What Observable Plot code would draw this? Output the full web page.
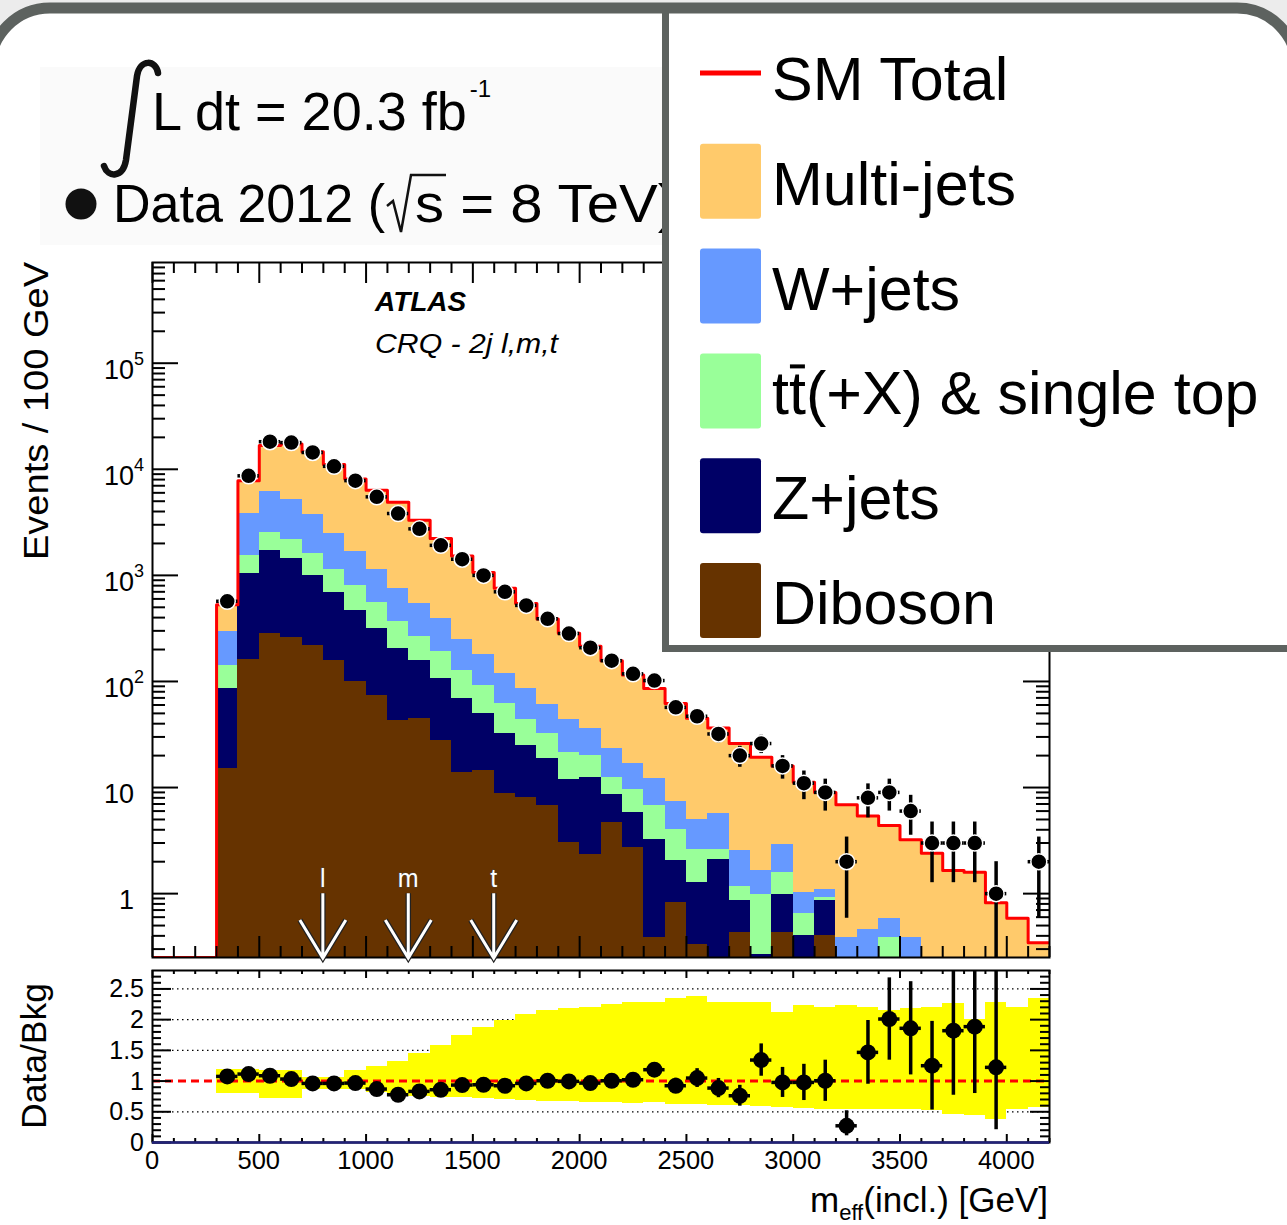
<!DOCTYPE html>
<html><head><meta charset="utf-8">
<script src="https://cdn.jsdelivr.net/npm/d3@7"></script>
<script src="https://cdn.jsdelivr.net/npm/@observablehq/plot@0.6"></script>
<style>
body{margin:0;background:#fff}
#chart{position:relative;width:1287px;height:1225px;overflow:hidden;background:#fff;font-family:"Liberation Sans",Arial,Helvetica,sans-serif}
#chart svg{position:absolute;left:0}
</style></head><body><div id="chart"></div>
<script>
// ---------------- data ----------------
const binLow = [300,400,500,600,700,800,900,1000,1100,1200,1300,1400,1500,1600,1700,1800,1900,2000,2100,2200,2300,2400,2500,2600,2700,2800,2900,3000,3100,3200,3300,3400,3500,3600,3700,3800,3900,4000,4100];
const diboson = [15.0,161,285,258,217,156,98.9,73.1,43.1,44.7,27.7,13.9,14.6,8.8,8.07,6.73,3.03,2.35,4.68,2.72,0.385,0.82,0.333,0,0.428,0,0.428,0,0.4,0,0,0,0,0,0,0,0,0,0];
const zjets = [70.7,877,1423,1180,790,534,367,246,163,113,78.3,54.6,34.8,23.2,16.7,11.9,9.0,10.15,4.0,3.1,2.875,1.25,0.937,2.11,0.425,0.268,0.559,0.4,0.453,0,0,0,0,0,0,0,0,0,0];
const ttbar = [54.3,487,822,755,603,437,337,231,165,110,86,58.5,42.1,29.4,19.5,13.4,9.4,7.5,3.82,3.86,3.47,1.99,1.36,0.52,0.327,0.719,0.593,0.247,0.064,0,0,0.384,0,0,0,0,0,0,0];
const wjets = [156,2310,3695,2997,2165,1367,868,577,384,270,198,120,86.5,58.6,42,28.5,22,15.7,10.9,7.02,5.47,3.28,2.41,3.02,1.35,0.653,1.3,0.373,0.183,0.39,0.461,0.202,0.384,0,0,0,0,0,0];
const multijets = [234,3957,10518,12090,10825,8606,6449,5233,4125,2772,1840,1272,886,638,456,327,241,179,133,98.3,73.8,54.5,40,30.75,23.5,17.7,13.1,10.2,7.9,6.5,4.94,3.81,2.84,2.4,1.65,1.59,0.82,0.586,0.344];
const dataCounts = [570,8680,18200,17850,14400,10670,7820,5500,3830,2745,1919,1420,1000,700,521,390,283,208,157,118,102,57,47,32,20,26,16,11,9,2,8,9,6,3,3,3,1,0,2];
const ratio = [1.076,1.114,1.087,1.033,0.962,0.962,0.967,0.870,0.777,0.832,0.859,0.935,0.940,0.924,0.962,1.005,0.995,0.967,1.005,1.022,1.185,0.924,1.049,0.886,0.761,1.342,0.978,0.978,1.005,0.272,1.467,2.01,1.859,1.25,1.82,1.886,1.223,null,null];
const bandHi = [1.196,1.196,1.168,1.168,1.06,1.06,1.168,1.239,1.315,1.451,1.576,1.739,1.875,1.984,2.076,2.147,2.185,2.20,2.24,2.28,2.28,2.337,2.38,2.28,2.28,2.28,2.12,2.228,2.2,2.228,2.19,2.147,2.174,2.2,2.255,2.01,2.28,2.2,2.337];
const bandLo = [0.804,0.804,0.717,0.717,0.87,0.87,0.859,0.815,0.761,0.75,0.734,0.734,0.717,0.707,0.679,0.668,0.668,0.652,0.652,0.641,0.652,0.614,0.625,0.609,0.598,0.58,0.57,0.554,0.543,0.543,0.543,0.543,0.533,0.516,0.462,0.446,0.38,0.543,0.57];
// low-count Poisson interval (relative to N)
const lowCountRel = {1: [0.17, 3.3], 2: [0.4, 1.9]};
const arrowCuts = [800, 1200, 1600];
const arrowLabels = ["l", "m", "t"];
const compNames = ["Diboson", "Z+jets", "ttbar", "W+jets", "Multi-jets"];
const compColors = ["#663300", "#000066", "#99ff99", "#6699ff", "#ffca6b"];
const legendLabels = ["Multi-jets", "W+jets", "tt(+X) & single top", "Z+jets", "Diboson"];
const legendColors = ["#ffca6b", "#6699ff", "#99ff99", "#000066", "#663300"];
const yMainLabels = [[1,"1",null],[10,"10",null],[100,"10","2"],[1e3,"10","3"],[1e4,"10","4"],[1e5,"10","5"]];
const xLabels = [0,500,1000,1500,2000,2500,3000,3500,4000];
const yRatioLabels = [[0,"0"],[0.5,"0.5"],[1,"1"],[1.5,"1.5"],[2,"2"],[2.5,"2.5"]];

// ---------------- derived tables ----------------
const BW = 100;
const comps = [diboson, zjets, ttbar, wjets, multijets];
const FLOOR = 0.05;
const cum = binLow.map(() => 0);
const stackRows = [];
comps.forEach((vals, ci) => {
  binLow.forEach((lo, i) => {
    const v = vals[i], b = cum[i], t = b + v;
    if (v > 0) stackRows.push({name: compNames[ci], lo, hi: lo + BW, y1: b > 0 ? b : FLOOR, y2: t});
    cum[i] = t;
  });
});
const smLine = [{x: 0, y: 0.25}, {x: binLow[0], y: 0.25}];
binLow.forEach((lo, i) => { smLine.push({x: lo, y: cum[i]}, {x: lo + BW, y: cum[i]}); });

const dataPts = [], ratioPts = [];
binLow.forEach((lo, i) => {
  const n = dataCounts[i];
  if (n > 0) {
    const s = Math.sqrt(n);
    dataPts.push({c: lo + BW/2, x1: lo, x2: lo + BW, n, elo: Math.max(n - s, FLOOR), ehi: n + s});
  }
  const r = ratio[i];
  if (r != null && n > 0) {
    const rel = lowCountRel[n] || [1 - 1/Math.sqrt(n), 1 + 1/Math.sqrt(n)];
    ratioPts.push({c: lo + BW/2, x1: lo, x2: lo + BW, r, lo: r*rel[0], hi: r*rel[1]});
  }
});
const bandRows = binLow.map((lo, i) => ({lo, hi: lo + BW, y1: bandLo[i], y2: bandHi[i]}));

const yMajor = [1, 10, 100, 1e3, 1e4, 1e5];
const yMinor = [];
for (let e = -1; e <= 5; e++) for (let m = 2; m <= 9; m++) { const v = m * 10**e; if (v >= 0.25 && v <= 8.9e5) yMinor.push(v); }
const xMajor = d3.range(0, 4201, 500);
const xMinor = d3.range(0, 4201, 100).filter(v => v % 500 !== 0);
const rMajor = [0, 0.5, 1, 1.5, 2, 2.5];
const rMinor = d3.range(1, 28).map(k => k/10).filter(v => Math.abs(v*2 - Math.round(v*2)) > 1e-6);

const W = 1287, ML = 152, MR = 238;
const FW = W - ML - MR;
const MAIN_H = 965, MAIN_T = 262, MAIN_B = 8;
const FH = MAIN_H - MAIN_T - MAIN_B;
const RAT_TOP = 965, RAT_H = 260, RAT_T = 5, RAT_B = 83;
const RFH = RAT_H - RAT_T - RAT_B;
const tk = {stroke: "black", strokeWidth: 2};

const mainPlot = Plot.plot({
  width: W, height: MAIN_H,
  marginLeft: ML, marginRight: MR, marginTop: MAIN_T, marginBottom: MAIN_B,
  x: {domain: [0, 4200], axis: null},
  y: {type: "log", domain: [0.25, 8.9e5], axis: null},
  color: {domain: compNames, range: compColors},
  marks: [
    Plot.rect(stackRows, {x1: "lo", x2: "hi", y1: "y1", y2: "y2", fill: "name", clip: true, shapeRendering: "crispEdges"}),
    Plot.line(smLine, {x: "x", y: "y", stroke: "#ff0000", strokeWidth: 3, clip: true}),
    Plot.tickY(yMajor, {y: d => d, insetRight: FW - 26, ...tk}),
    Plot.tickY(yMinor, {y: d => d, insetRight: FW - 13, ...tk}),
    Plot.tickY(yMajor, {y: d => d, insetLeft: FW - 26, ...tk}),
    Plot.tickY(yMinor, {y: d => d, insetLeft: FW - 13, ...tk}),
    Plot.tickX(xMajor, {x: d => d, insetTop: FH - 21, ...tk}),
    Plot.tickX(xMinor, {x: d => d, insetTop: FH - 11, ...tk}),
    Plot.tickX(xMajor, {x: d => d, insetBottom: FH - 21, ...tk}),
    Plot.tickX(xMinor, {x: d => d, insetBottom: FH - 11, ...tk}),
    Plot.frame({stroke: "black", strokeWidth: 2}),
    Plot.ruleX(dataPts, {x: "c", y1: "elo", y2: "ehi", stroke: "black", strokeWidth: 3.5, clip: true}),
    Plot.ruleY(dataPts, {y: "n", x1: "x1", x2: "x2", stroke: "black", strokeWidth: 3.5, clip: true}),
    Plot.dot(dataPts, {x: "c", y: "n", r: 8, fill: "black", stroke: "white", strokeWidth: 1.5, clip: true})
  ]
});

const ratioPlot = Plot.plot({
  width: W, height: RAT_H,
  marginLeft: ML, marginRight: MR, marginTop: RAT_T, marginBottom: RAT_B,
  x: {domain: [0, 4200], axis: null},
  y: {domain: [0, 2.8], axis: null},
  marks: [
    Plot.ruleY([0.5, 1.5, 2, 2.5], {y: d => d, stroke: "black", strokeWidth: 1.3, strokeDasharray: "1.5,3.5"}),
    Plot.rect(bandRows, {x1: "lo", x2: "hi", y1: "y1", y2: "y2", fill: "#ffff00", shapeRendering: "crispEdges"}),
    Plot.ruleY([1], {y: d => d, stroke: "#ff0000", strokeWidth: 3, strokeDasharray: "8,5"}),
    Plot.tickY(rMajor, {y: d => d, insetRight: FW - 19, ...tk}),
    Plot.tickY(rMinor, {y: d => d, insetRight: FW - 9, ...tk}),
    Plot.tickY(rMajor, {y: d => d, insetLeft: FW - 19, ...tk}),
    Plot.tickY(rMinor, {y: d => d, insetLeft: FW - 9, ...tk}),
    Plot.tickX(xMajor, {x: d => d, insetTop: RFH - 8, ...tk}),
    Plot.tickX(xMinor, {x: d => d, insetTop: RFH - 4, ...tk}),
    Plot.tickX(xMajor, {x: d => d, insetBottom: RFH - 8, ...tk}),
    Plot.tickX(xMinor, {x: d => d, insetBottom: RFH - 4, ...tk}),
    Plot.frame({stroke: "black", strokeWidth: 2}),
    Plot.ruleY([0], {y: d => d, stroke: "#22227a", strokeWidth: 2.5}),
    Plot.ruleX(ratioPts, {x: "c", y1: "lo", y2: "hi", stroke: "black", strokeWidth: 3.5, clip: true}),
    Plot.ruleY(ratioPts, {y: "r", x1: "x1", x2: "x2", stroke: "black", strokeWidth: 3.5, clip: true}),
    Plot.dot(ratioPts, {x: "c", y: "r", r: 8, fill: "black", clip: true})
  ]
});

const chart = document.getElementById("chart");
// background layer
const bg = d3.create("svg").attr("width", W).attr("height", 1225).style("top", "0px");
bg.append("rect").attr("x", 40).attr("y", 67).attr("width", 624).attr("height", 178).attr("fill", "#fafafa");
chart.appendChild(bg.node());

for (const [el, top] of [[mainPlot, 0], [ratioPlot, RAT_TOP]]) {
  el.style.position = "absolute"; el.style.top = top + "px"; el.style.left = "0px";
  el.style.background = "transparent"; el.style.overflow = "visible"; el.style.maxWidth = "none";
  chart.appendChild(el);
}

const ov = d3.create("svg").attr("width", W).attr("height", 1225).style("top", "0px")
  .style("font-family", '"Liberation Sans",Arial,Helvetica,sans-serif');
chart.appendChild(ov.node());

const mx = mainPlot.scale("x"), my = mainPlot.scale("y");
const rx = ratioPlot.scale("x"), ry = ratioPlot.scale("y");

// arrows with labels
arrowCuts.forEach((g, i) => {
  const x = mx.apply(g), yTop = my.apply(1), yTip = my.apply(0.25) + 1;
  const d = `M${x},${yTop}V${yTip}M${x - 23},${yTip - 38}L${x},${yTip}L${x + 23},${yTip - 38}`;
  ov.append("path").attr("d", d).attr("fill", "none").attr("stroke", "#222").attr("stroke-width", 5.5).attr("stroke-linejoin", "miter");
  ov.append("path").attr("d", d).attr("fill", "none").attr("stroke", "white").attr("stroke-width", 3).attr("stroke-linejoin", "miter");
  ov.append("text").attr("x", x).attr("y", yTop - 6).attr("text-anchor", "middle").attr("font-size", 25)
    .attr("fill", "white").attr("stroke", "#444").attr("stroke-width", 0.8).attr("paint-order", "stroke").text(arrowLabels[i]);
});

// main y labels
yMainLabels.forEach(([v, base, sup]) => {
  const y = my.apply(v);
  const t = ov.append("text").attr("x", sup ? 144 : 134).attr("y", y + 16).attr("text-anchor", "end").attr("font-size", 27);
  t.append("tspan").text(base);
  if (sup) t.append("tspan").attr("font-size", 18).attr("dy", -14).text(sup);
});
// ratio y labels
yRatioLabels.forEach(([v, s]) => {
  ov.append("text").attr("x", 144).attr("y", RAT_TOP + ry.apply(v) + 9).attr("text-anchor", "end").attr("font-size", 25).text(s);
});
// ratio x labels
xLabels.forEach(v => {
  ov.append("text").attr("x", rx.apply(v)).attr("y", 1169).attr("text-anchor", "middle").attr("font-size", 25.5).text(v);
});
// axis titles
ov.append("text").attr("transform", "translate(48,411) rotate(-90)").attr("text-anchor", "middle").attr("font-size", 35)
  .attr("textLength", 298).attr("lengthAdjust", "spacingAndGlyphs").text("Events / 100 GeV");
ov.append("text").attr("transform", `translate(46,${RAT_TOP + ry.apply(1.4)}) rotate(-90)`).attr("text-anchor", "middle").attr("font-size", 35)
  .attr("textLength", 146).attr("lengthAdjust", "spacingAndGlyphs").text("Data/Bkg");
{
  const t = ov.append("text").attr("x", 1048).attr("y", 1212).attr("text-anchor", "end").attr("font-size", 35);
  t.append("tspan").text("m");
  t.append("tspan").attr("font-size", 22).attr("dy", 8).text("eff");
  t.append("tspan").attr("dy", -8).text("(incl.) [GeV]");
}
// ATLAS labels
ov.append("text").attr("x", 375).attr("y", 311).attr("font-size", 28).attr("font-weight", "bold").attr("font-style", "italic").text("ATLAS");
ov.append("text").attr("x", 375).attr("y", 353).attr("font-size", 28).attr("font-style", "italic")
  .attr("textLength", 183).attr("lengthAdjust", "spacingAndGlyphs").text("CRQ - 2j l,m,t");

// luminosity block
ov.append("path").attr("d", "M158,73 C156,60 140,58 137,76 L126,160 C123,178 108,178 104,166")
  .attr("fill", "none").attr("stroke", "#111").attr("stroke-width", 6.5).attr("stroke-linecap", "round");
{
  const t = ov.append("text").attr("x", 152).attr("y", 130).attr("font-size", 54);
  t.append("tspan").text("L dt = 20.3 fb");
  t.append("tspan").attr("font-size", 24).attr("dx", 3).attr("dy", -33).text("-1");
}
ov.append("circle").attr("cx", 81).attr("cy", 204).attr("r", 15.5).attr("fill", "#111");
ov.append("text").attr("x", 113).attr("y", 222).attr("font-size", 54).attr("textLength", 272).attr("lengthAdjust", "spacingAndGlyphs").text("Data 2012 (");
ov.append("path").attr("d", "M387,206 L393,201 L401,232 L411,175 L446,175").attr("fill", "none").attr("stroke", "#111").attr("stroke-width", 2.5);
ov.append("text").attr("x", 415).attr("y", 222).attr("font-size", 54).attr("textLength", 262).attr("lengthAdjust", "spacingAndGlyphs").text("s = 8 TeV)");

// legend box
ov.append("rect").attr("x", 665.5).attr("y", -10).attr("width", 700).attr("height", 658.5)
  .attr("fill", "white").attr("stroke", "#5d625f").attr("stroke-width", 7);
const LB = 100, LS = 104.8;
ov.append("line").attr("x1", 700).attr("x2", 761).attr("y1", 73).attr("y2", 73).attr("stroke", "#ff0000").attr("stroke-width", 5);
ov.append("text").attr("x", 772).attr("y", LB).attr("font-size", 61).text("SM Total");
legendLabels.forEach((lab, i) => {
  const base = LB + LS * (i + 1);
  ov.append("rect").attr("x", 700).attr("y", base - 61).attr("width", 61).attr("height", 75).attr("rx", 3).attr("fill", legendColors[i]);
  const t = ov.append("text").attr("x", 772).attr("y", base).attr("font-size", 61).text(lab);
  if (i === 2) {
    const ext = t.node().getExtentOfChar(1);
    ov.append("line").attr("x1", ext.x + 1).attr("x2", ext.x + ext.width - 1)
      .attr("y1", base - 48).attr("y2", base - 48).attr("stroke", "black").attr("stroke-width", 4);
  }
});

// outer rounded screenshot frame
function rrPath(x, y, w, h, r) {
  return `M${x + r},${y}H${x + w - r}A${r},${r} 0 0 1 ${x + w},${y + r}V${y + h - r}A${r},${r} 0 0 1 ${x + w - r},${y + h}H${x + r}A${r},${r} 0 0 1 ${x},${y + h - r}V${y + r}A${r},${r} 0 0 1 ${x + r},${y}Z`;
}
const RR = rrPath(-10, 8, 1307, 1400, 60);
ov.append("path").attr("d", "M-30,-30H1330V1500H-30Z" + RR).attr("fill", "#ececec").attr("fill-rule", "evenodd");
ov.append("path").attr("d", RR).attr("fill", "none").attr("stroke", "#5d625f").attr("stroke-width", 11);
</script></body></html>
